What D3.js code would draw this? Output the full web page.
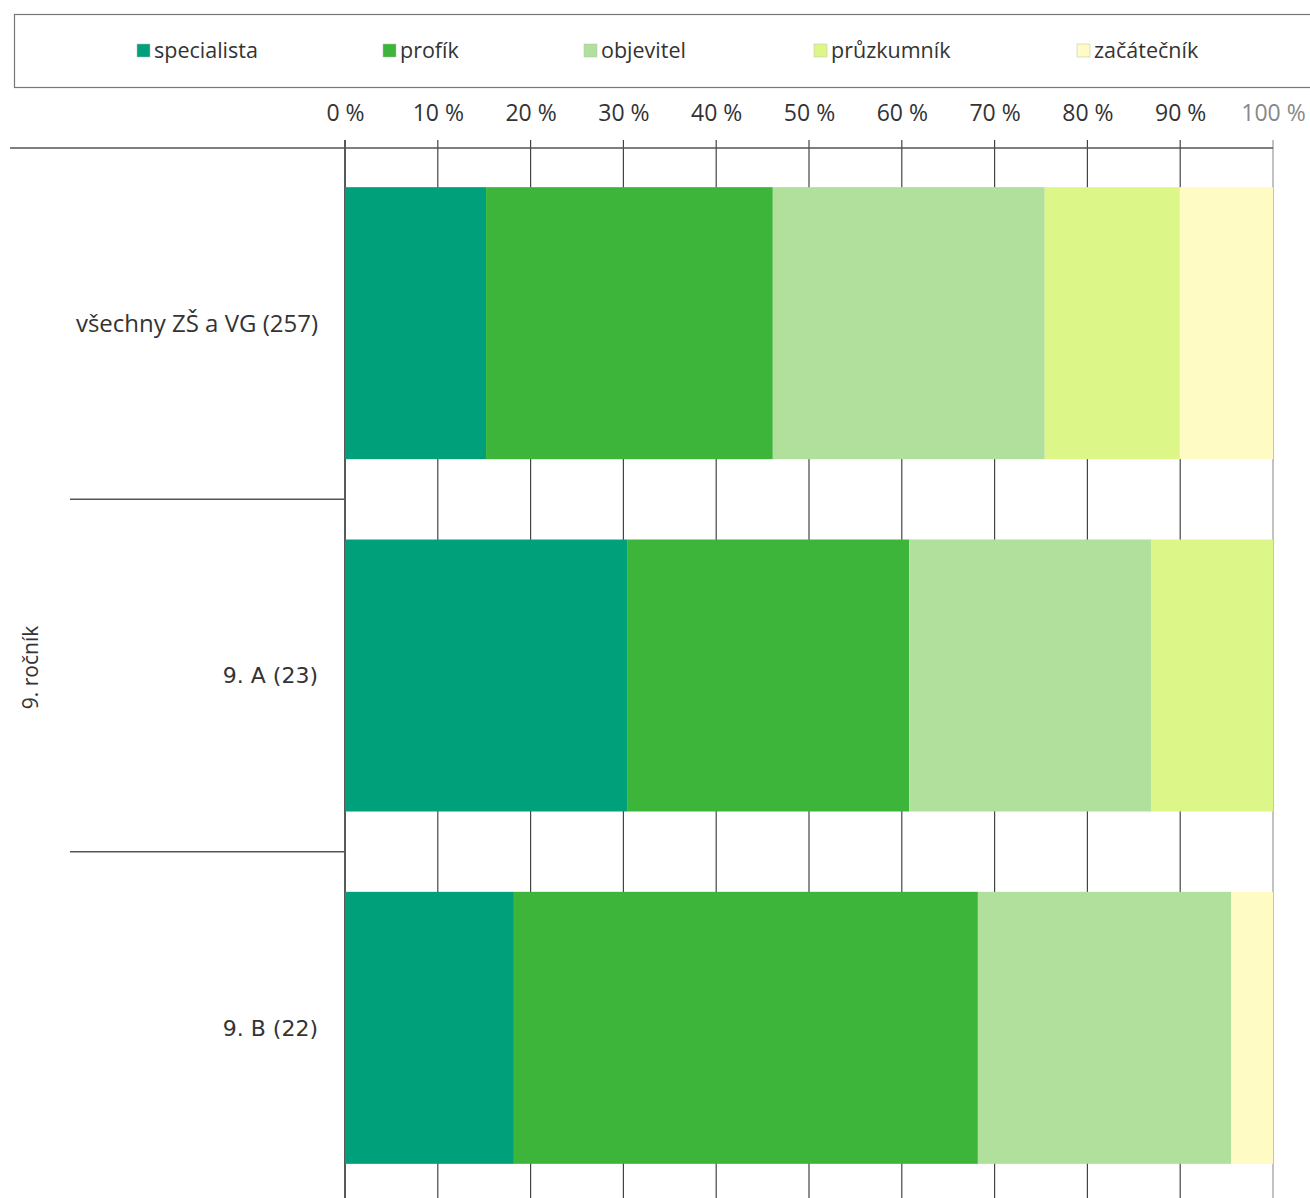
<!DOCTYPE html>
<html><head><meta charset="utf-8">
<script src="https://cdn.jsdelivr.net/npm/d3@7"></script>
<style>body{margin:0;background:#fff}svg{display:block}</style>
</head><body>
<svg id="c" width="1310" height="1198"></svg>
<script>
const categories = ["všechny ZŠ a VG (257)", "9. A (23)", "9. B (22)"];
const seriesNames = ["specialista", "profík", "objevitel", "průzkumník", "začátečník"];
const specialista = [15.2, 30.4, 18.2];
const profik = [30.9, 30.4, 50.0];
const objevitel = [29.3, 26.1, 27.3];
const pruzkumnik = [14.5, 13.1, 0];
const zacatecnik = [10.1, 0, 4.5];
const tickValues = [0, 10, 20, 30, 40, 50, 60, 70, 80, 90, 100];
const groupLabel = "9. ročník";
const colors = ["#00a07a", "#3db53a", "#b0e09c", "#dcf788", "#fffbc4"];

const seriesValues = [specialista, profik, objevitel, pruzkumnik, zacatecnik];
const rows = categories.map((c, i) => {
  const r = {cat: c};
  seriesNames.forEach((s, j) => r[s] = seriesValues[j][i]);
  return r;
});
const stack = d3.stack().keys(seriesNames)(rows);

const svg = d3.select("#c");
const x = d3.scaleLinear().domain([0, 100]).range([345, 1273]);
const y = d3.scaleBand().domain(categories).range([147, 1204]).paddingInner(0.228).paddingOuter(0.114);
const color = d3.scaleOrdinal().domain(seriesNames).range(colors);

// legend box
svg.append("rect").attr("x", 14.5).attr("y", 14.5).attr("width", 1310).attr("height", 73)
  .attr("fill", "none").attr("stroke", "#777").attr("stroke-width", 1.2);
const legendX = [137, 383, 584, 814, 1077];
const lg = svg.append("g").selectAll("g").data(seriesNames).join("g")
  .attr("transform", (d, i) => `translate(${legendX[i]},0)`);
lg.append("rect").attr("x", 0).attr("y", 44).attr("width", 13).attr("height", 13)
  .attr("fill", d => color(d)).attr("stroke", "#bbb").attr("stroke-width", 0.5);
lg.append("text").attr("x", 17).attr("y", 58).text(d => d)
  .attr("font-family", "Open Sans, sans-serif").attr("font-size", 21.5).attr("fill", "#333");

// gridlines
svg.append("g").selectAll("line").data(tickValues).join("line")
  .attr("x1", d => x(d)).attr("x2", d => x(d)).attr("y1", 140).attr("y2", 1198)
  .attr("stroke", (d) => d === 0 ? "#222" : (d === 100 ? "#999" : "#444")).attr("stroke-width", d => d === 0 ? 1.5 : 1.2);

// top axis labels
const axis = d3.axisTop(x).tickValues(tickValues).tickFormat(d => d + " %").tickSize(0).tickPadding(0);
const ag = svg.append("g").attr("transform", "translate(0,121)").call(axis);
ag.select(".domain").remove();
ag.selectAll("text").attr("font-family", "Open Sans, sans-serif").attr("font-size", 23)
  .attr("fill", d => d === 100 ? "#888" : "#333").attr("dy", 0);

// top horizontal line
svg.append("line").attr("x1", 10).attr("x2", 1273).attr("y1", 148).attr("y2", 148)
  .attr("stroke", "#555").attr("stroke-width", 1.5);

// bars
svg.append("g").selectAll("g").data(stack).join("g").attr("fill", d => color(d.key))
  .selectAll("rect").data(d => d).join("rect")
  .attr("x", d => x(d[0])).attr("width", d => x(d[1]) - x(d[0]))
  .attr("y", d => y(d.data.cat)).attr("height", y.bandwidth());

// separators between categories
const seps = categories.slice(1).map(c => y(c) - y.step() * y.paddingInner() / 2);
svg.append("g").selectAll("line").data(seps).join("line")
  .attr("x1", 70).attr("x2", 345).attr("y1", d => d).attr("y2", d => d)
  .attr("stroke", "#555").attr("stroke-width", 1.5);

// category labels
svg.append("g").selectAll("text").data(categories).join("text")
  .attr("x", 318).attr("y", d => y(d) + y.bandwidth() / 2).attr("dy", "0.35em")
  .attr("text-anchor", "end")
  .attr("font-family", (d, i) => i === 0 ? "Open Sans, sans-serif" : "DejaVu Sans, sans-serif")
  .attr("font-size", (d, i) => i === 0 ? 24 : 22).attr("fill", "#333").text(d => d);

// group label
const gy = (y(categories[0]) + y(categories[2]) + y.bandwidth()) / 2;
svg.append("text").attr("transform", `translate(38,${gy - 8}) rotate(-90)`)
  .attr("text-anchor", "middle").attr("font-family", "Open Sans, sans-serif")
  .attr("font-size", 21).attr("fill", "#333").text(groupLabel);
</script>
</body></html>
